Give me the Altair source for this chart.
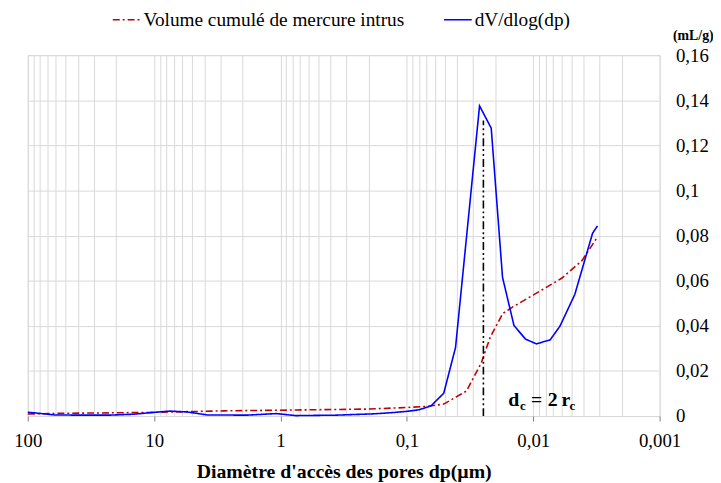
import altair as alt
import pandas as pd

# ---- data ----
blue_d = [100, 80.6, 61.5, 39.3, 22.9, 14.6, 10.2, 7.53, 5.45, 3.80, 1.85, 1.08, 0.755,
          0.368, 0.1795, 0.1254, 0.0993, 0.0800, 0.0645, 0.0511, 0.0412, 0.0266, 0.0215,
          0.0175, 0.0142, 0.0115, 0.00944, 0.00734, 0.00614, 0.00469, 0.00339, 0.0031]
blue_v = [0.0017, 0.0012, 0.0005, 0.0004, 0.0004, 0.0008, 0.0016, 0.0022, 0.0018, 0.0005,
          0.0004, 0.0011, 0.0002, 0.0004, 0.0010, 0.0016, 0.0021, 0.0028, 0.0045, 0.0101,
          0.0304, 0.1375, 0.1276, 0.0615, 0.0401, 0.0341, 0.0320, 0.0338, 0.0399, 0.0539,
          0.0811, 0.0843]
red_d = [100, 56.3, 11.2, 2.81, 0.755, 0.204, 0.0993, 0.0693, 0.0511, 0.0338, 0.0258,
         0.0219, 0.0174, 0.0145, 0.00848, 0.00592, 0.00413, 0.0031]
red_v = [0.0009, 0.0012, 0.0016, 0.0023, 0.0027, 0.0031, 0.0038, 0.0043, 0.0053, 0.0111,
         0.0235, 0.0350, 0.0455, 0.0484, 0.0560, 0.0612, 0.0688, 0.0794]

series_names = ["Volume cumulé de mercure intrus", "dV/dlog(dp)"]
series_colors = ["#c00000", "#0000ff"]

dc_x = [0.0248]
dc_top = [0.131]
label_x = 0.0158
label_y = 0.0044

x_labels = [100, 10, 1, 0.1, 0.01, 0.001]
x_grid = [m * 10.0 ** e for e in range(-3, 2) for m in range(1, 10)] + [100]
y_ticks = [0, 0.02, 0.04, 0.06, 0.08, 0.10, 0.12, 0.14, 0.16]

FONT = "Liberation Serif, 'Times New Roman', Times, serif"

df = pd.concat([
    pd.DataFrame({"d": red_d, "v": red_v, "series": series_names[0]}),
    pd.DataFrame({"d": blue_d, "v": blue_v, "series": series_names[1]}),
])

xscale = alt.Scale(type="log", domain=[0.001, 100], reverse=True)
yscale = alt.Scale(domain=[0, 0.16], nice=False, zero=True)

decade_test = "abs(log(datum.value)/LN10 - round(log(datum.value)/LN10)) < 1e-6"

x_axis = alt.Axis(
    values=x_grid,
    title="Diamètre d'accès des pores dp(µm)",
    labelExpr="(" + decade_test + ") ? replace(format(datum.value, '~g'), '.', ',') : ''",
    tickOpacity={"condition": {"test": decade_test, "value": 1}, "value": 0},
    grid=True, gridColor="#d9d9d9", gridWidth=1,
    domain=False, tickColor="#7f7f7f", tickSize=5,
    labelFont=FONT, labelFontSize=19, labelColor="#000", labelPadding=11,
    labelOverlap=False, labelFlush=False,
    titleFont=FONT, titleFontSize=20, titleFontWeight="bold", titleColor="#000",
    titlePadding=11,
)
y_axis = alt.Axis(
    orient="right", values=y_ticks,
    labelExpr="replace(format(datum.value, '~g'), '.', ',')",
    grid=True, gridColor="#d9d9d9", gridWidth=1,
    domain=False, ticks=False,
    labelFont=FONT, labelFontSize=19, labelColor="#000", labelPadding=16,
    labelBaseline="middle",
    title="(mL/g)", titleAngle=0, titleFont=FONT, titleFontSize=14,
    titleFontWeight="bold", titleColor="#000", titleAlign="left",
    titleX=13, titleY=-20, titleBaseline="middle",
)

legend = alt.Legend(
    orient="none", legendX=85, legendY=-51, direction="horizontal",
    title=None, symbolType="stroke", symbolSize=784,
    symbolStrokeWidth=1.6, labelFont=FONT, labelFontSize=19.5,
    labelColor="#000", labelLimit=500, columnPadding=36, labelOffset=2)

lines = alt.Chart(df).mark_line(strokeWidth=1.6).encode(
    x=alt.X("d:Q", scale=xscale, axis=x_axis),
    y=alt.Y("v:Q", scale=yscale, axis=y_axis),
    color=alt.Color("series:N", scale=alt.Scale(domain=series_names, range=series_colors),
                    legend=legend),
    strokeDash=alt.StrokeDash("series:N",
                              scale=alt.Scale(domain=series_names,
                                              range=[[7, 3, 2, 3], [1, 0]]),
                              legend=legend),
    order=alt.Order("d:Q", sort="descending"),
)

rule_df = pd.DataFrame({"d": dc_x, "v": [0.0], "v2": dc_top})
dc_rule = alt.Chart(rule_df).mark_rule(
    color="#000", strokeWidth=1.6, strokeDash=[8, 3, 2, 3, 2, 3]
).encode(x=alt.X("d:Q", scale=xscale), y=alt.Y("v:Q", scale=yscale), y2="v2:Q")

label_df = pd.DataFrame({"d": [label_x], "v": [label_y]})
pieces = [("d", 0, 0, 20), ("c", 12, 4, 13), ("=", 23, 0, 20), ("2", 40, 0, 20),
          ("r", 54, 0, 20), ("c", 62, 4, 13)]
texts = []
for t, dx, dy, fs in pieces:
    texts.append(
        alt.Chart(label_df).mark_text(
            text=t, dx=dx, dy=dy, fontSize=fs, font=FONT, fontWeight="bold",
            align="left", baseline="alphabetic", color="#000"
        ).encode(x=alt.X("d:Q", scale=xscale), y=alt.Y("v:Q", scale=yscale))
    )

chart = alt.layer(lines, dc_rule, *texts).properties(
    width=639, height=365,
    padding={"left": 20, "top": 45, "right": 54, "bottom": 65},
    autosize=alt.AutoSizeParams(type="none"),
).configure_view(stroke="#595959", strokeWidth=1.5).configure(background="white")

chart.save("out.html", embed_options={"renderer": "svg", "actions": False})
